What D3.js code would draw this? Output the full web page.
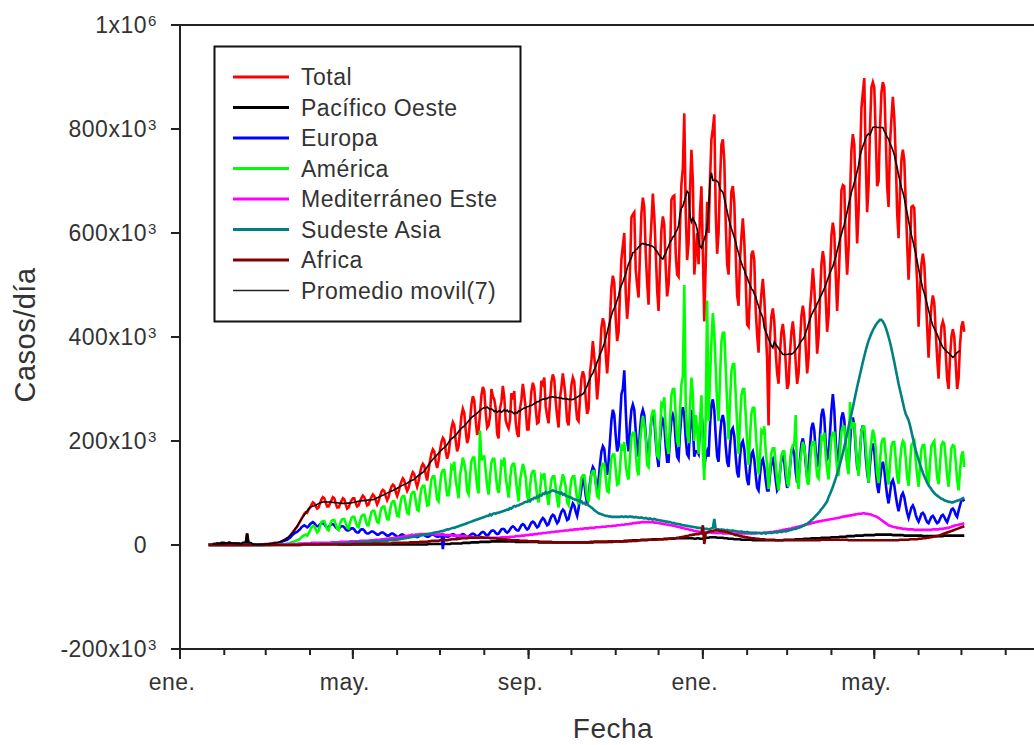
<!DOCTYPE html>
<html>
<head>
<meta charset="utf-8">
<script src="https://cdn.jsdelivr.net/npm/d3@7"></script>
<style>
  html, body { margin: 0; padding: 0; background: #fff; }
  svg { display: block; }
  text { font-family: "Liberation Sans", Arial, sans-serif; fill: #333; }
</style>
</head>
<body>
<svg id="chart" width="1034" height="745"></svg>
<script>
// Daily reported COVID-19 cases (thousands per day), one value per day from 21 Jan 2020.
const firstDay = new Date(2020, 0, 21);

const seriesNames = ["Total", "Pacífico Oeste", "Europa", "América", "Mediterráneo Este", "Sudeste Asia", "Africa"];
const seriesColors = ["#ff0000", "#000000", "#0000ff", "#00ff00", "#ff00ff", "#008080", "#800000"];
const maLabel = "Promedio movil(7)";
const maWindow = 7;

const total = [
0,1,1,1,2,2,3,
2,2,2,3,3,3,3,
4,4,3,3,3,3,3,
3,2,2,2,3,3,22,
2,2,1,1,1,1,1,
1,1,1,1,2,2,2,
2,3,3,3,4,4,4,
4,5,7,8,10,11,13,
14,17,21,25,28,32,35,
40,45,50,55,60,63,62,
68,72,77,82,80,75,70,
72,80,88,92,90,82,74,
74,80,86,92,90,80,72,
72,78,84,90,88,78,70,
72,80,86,90,90,80,74,
76,84,90,95,92,84,76,
78,86,92,97,94,86,78,
84,94,102,106,104,94,86,
92,104,112,116,114,102,94,
102,114,122,128,124,112,104,
110,122,133,140,136,122,112,
122,138,150,156,152,136,124,
144,162,176,184,180,160,148,
162,182,198,206,202,180,166,
176,198,224,236,230,200,180,
190,218,248,262,254,220,196,
206,238,270,286,278,240,212,
220,252,288,304,296,254,226,
230,248,300,286,280,262,214,
205,262,276,306,284,240,230,
224,240,292,280,296,236,214,
208,262,280,310,288,262,222,
222,262,296,312,302,262,234,
236,268,316,310,322,266,248,
234,276,314,328,318,276,248,
226,282,304,330,308,280,238,
230,272,308,322,314,272,242,
238,282,320,334,324,282,252,
262,332,356,392,362,330,280,
312,368,418,436,426,368,330,
370,436,494,518,504,436,392,
410,485,550,575,600,485,435,
470,530,630,636,640,530,500,
476,562,638,668,650,562,504,
462,570,620,676,632,566,490,
450,534,606,632,616,534,478,
500,560,664,670,672,560,520,
516,610,694,724,830,640,548,
580,680,760,700,520,560,600,
540,640,690,560,430,540,660,
600,700,780,800,828,640,560,
600,700,770,780,740,620,540,
520,610,680,690,660,560,480,
460,548,592,628,584,508,424,
420,482,558,566,548,452,404,
370,448,484,512,474,416,356,
230,400,440,455,430,370,330,
310,370,410,425,400,350,300,
310,370,410,430,400,350,310,
330,390,440,460,440,380,330,
360,452,488,532,494,440,368,
400,475,540,565,545,475,410,
440,525,595,620,600,520,450,
510,580,682,692,690,580,520,
570,670,760,790,770,670,580,
640,740,840,870,898,740,640,
690,800,880,890,880,790,690,
700,800,870,890,880,790,690,
650,772,820,862,822,748,640,
590,680,740,760,740,660,580,
510,570,650,652,648,560,506,
420,490,540,560,540,480,420,
360,420,460,480,465,410,360,
320,380,420,430,420,370,320,
300,360,400,415,400,350,300,
320,385,420,430,410
];

const pacificoOeste = [
0,1,1,2,2,2,3,
3,3,4,4,4,3,3,
4,4,3,3,3,3,3,
3,2,2,2,3,3,22,
2,2,1,1,1,1,1,
1,1,1,1,1,1,1,
1,1,1,1,1,1,1,
1,1,1,1,1,1,1,
1,1,1,1,1,1,1,
1,1,1,1,2,2,2,
2,2,2,2,2,2,2,
2,2,2,2,2,2,2,
2,2,2,2,2,2,2,
1,1,1,1,1,1,1,
1,1,1,1,1,1,1,
1,1,1,1,1,1,1,
1,1,1,1,1,1,1,
1,1,1,1,1,1,1,
1,1,1,1,1,1,1,
1,1,1,1,1,1,1,
1,1,1,1,1,1,1,
1,1,1,1,1,1,1,
2,2,2,2,2,2,2,
2,2,2,2,2,2,2,
2,2,3,3,3,3,3,
3,3,3,4,4,4,4,
4,4,5,5,5,5,5,
5,6,6,6,6,6,6,
6,6,7,7,7,7,7,
7,7,7,7,7,7,7,
7,7,7,7,7,6,6,
6,6,6,6,6,6,6,
6,6,6,6,6,6,6,
5,5,5,5,5,5,5,
5,5,5,5,5,5,5,
5,5,5,5,5,5,5,
5,5,5,5,5,5,5,
5,5,5,5,5,5,5,
5,5,5,5,6,6,6,
6,6,6,6,6,6,6,
6,6,6,6,7,7,7,
7,7,7,7,8,8,8,
8,8,8,9,9,9,9,
9,9,10,10,10,10,10,
10,10,10,11,11,11,11,
11,11,11,11,12,12,12,
12,12,12,12,12,13,13,
13,13,13,13,13,13,13,
13,13,13,13,12,12,13,
13,12,12,12,13,14,14,
14,15,15,15,15,15,14,
14,14,14,14,13,13,13,
12,12,12,12,11,11,11,
11,11,10,10,10,10,10,
10,10,10,9,9,9,9,
9,9,9,9,9,9,9,
9,9,9,9,9,9,9,
9,9,9,9,10,10,10,
10,10,10,10,10,11,11,
11,11,11,11,12,12,12,
12,12,13,13,13,13,13,
13,13,14,14,14,14,14,
14,14,15,15,15,15,15,
15,16,16,16,16,16,17,
17,17,17,17,17,18,18,
18,18,18,18,19,19,19,
19,19,19,19,19,20,20,
20,20,20,20,20,20,20,
20,20,20,19,19,19,19,
19,19,19,19,18,18,18,
18,18,18,18,18,18,18,
18,18,18,17,17,17,17,
17,17,17,17,17,17,17,
17,17,17,17,18,18,18,
18,18,18,18,18,18,18,
18,18,18,18,18
];

const europa = [
0,0,0,0,0,0,0,
0,0,0,0,0,0,0,
0,0,0,0,0,0,0,
0,0,0,0,0,0,0,
0,0,0,0,0,0,0,
0,0,0,0,0,1,1,
1,1,1,1,2,2,3,
4,5,6,7,8,9,10,
12,14,17,20,22,24,25,
28,30,34,36,38,36,34,
36,40,42,44,42,38,36,
36,40,42,42,40,36,34,
34,38,40,40,38,34,32,
30,34,36,36,34,30,28,
28,30,32,32,30,26,24,
24,28,30,30,28,24,22,
22,24,26,26,24,22,20,
20,22,24,24,22,20,18,
18,20,22,22,20,18,16,
16,18,20,20,18,16,15,
15,17,19,19,18,16,15,
16,18,20,20,19,17,16,
16,18,20,20,19,17,16,
16,18,20,-8,19,17,16,
16,18,20,21,20,17,16,
16,18,20,21,20,17,16,
16,19,21,22,21,18,17,
18,21,24,25,24,20,19,
20,24,27,28,27,23,21,
22,26,30,31,30,26,24,
26,30,34,36,34,30,28,
28,33,38,40,38,33,30,
32,38,43,45,43,38,34,
36,43,48,52,49,43,38,
40,48,55,58,56,48,42,
46,56,64,68,65,56,48,
50,62,72,80,76,64,56,
70,90,110,130,120,95,80,
95,120,140,150,145,120,105,
125,155,180,190,185,155,135,
160,200,240,260,250,210,180,
190,240,290,300,336,260,200,
180,230,260,270,260,220,190,
170,220,250,260,250,210,180,
160,210,240,250,240,200,170,
150,200,230,240,230,190,160,
160,210,240,250,240,200,170,
165,215,250,265,250,205,175,
170,220,260,230,170,180,180,
175,230,260,220,150,170,180,
170,230,270,280,260,210,170,
160,210,240,250,235,190,160,
150,190,220,225,210,170,140,
130,170,195,200,185,150,125,
115,150,175,180,165,135,110,
105,135,160,165,150,125,105,
105,135,160,165,150,125,105,
110,140,165,170,160,130,110,
120,150,180,185,175,140,120,
130,165,195,205,190,155,130,
150,190,225,235,220,180,150,
165,210,250,262,245,195,165,
170,215,260,290,260,200,165,
160,205,245,255,240,195,160,
150,195,235,245,230,185,150,
140,180,220,230,215,170,140,
120,155,185,195,180,145,115,
100,125,150,160,145,118,95,
80,100,120,125,115,95,78,
65,80,95,100,92,76,62,
52,62,72,76,70,58,50,
45,52,60,62,58,50,44,
42,48,54,56,52,46,42,
44,50,56,58,54,48,44,
52,60,68,70,66,58,54,
66,76,86,88,84
];

const america = [
0,0,0,0,0,0,0,
0,0,0,0,0,0,0,
0,0,0,0,0,0,0,
0,0,0,0,0,0,0,
0,0,0,0,0,0,0,
0,0,0,0,0,0,0,
0,0,0,0,0,1,1,
1,1,1,1,2,2,3,
3,4,5,6,7,8,9,
10,12,15,17,19,20,18,
22,28,34,36,36,30,24,
27,36,44,46,46,38,30,
28,38,46,48,48,40,32,
29,40,48,50,50,42,34,
32,43,52,54,54,45,36,
34,46,55,58,58,48,38,
38,52,63,66,66,55,44,
43,59,71,74,74,62,50,
49,66,80,84,84,70,56,
55,74,90,94,94,78,62,
60,81,98,102,102,85,68,
66,90,109,114,114,95,76,
77,104,126,132,132,110,88,
84,114,138,144,144,120,96,
96,118,152,148,160,124,108,
90,134,150,168,156,140,104,
98,133,161,168,168,140,112,
99,220,163,170,170,142,114,
97,131,159,166,166,138,110,
100,124,160,156,168,130,112,
91,124,150,156,156,130,104,
84,124,140,156,146,130,96,
83,112,136,142,142,118,94,
82,102,134,130,138,108,94,
77,104,126,132,132,110,88,
72,108,120,136,126,112,82,
77,104,126,132,132,110,88,
78,106,129,134,134,112,90,
83,112,136,142,142,118,94,
91,124,150,156,156,130,104,
102,138,167,174,174,145,116,
118,148,190,186,198,156,134,
126,171,207,216,216,180,144,
134,196,224,248,232,206,154,
150,204,247,258,258,215,172,
168,212,272,268,284,224,190,
175,238,288,300,300,250,200,
189,256,310,324,500,270,216,
196,266,322,290,200,250,224,
175,238,288,180,125,250,470,
238,323,391,446,408,340,272,
238,323,391,408,408,340,272,
203,276,334,348,348,290,232,
175,238,288,300,300,250,200,
154,209,253,264,264,220,176,
136,170,220,216,228,180,152,
108,147,178,186,186,155,124,
105,142,172,180,180,150,120,
112,152,184,192,192,250,128,
108,158,178,198,186,166,122,
116,157,190,198,198,165,132,
128,160,208,204,216,170,146,
126,171,207,216,216,180,144,
133,180,218,228,228,190,152,
136,275,224,234,234,195,156,
133,180,218,228,228,190,152,
120,176,200,222,210,186,138,
119,161,195,204,204,170,136,
116,157,190,198,198,165,132,
118,160,188,200,196,168,130,
114,155,192,196,200,162,134,
112,152,184,192,192,160,128,
116,158,190,196,200,165,130,
117,155,192,198,196,166,133,
112,150,186,192,190,160,126,
105,142,172,180,150
];

const mediterraneoEste = [
0,0,0,0,0,0,0,
0,0,0,0,0,0,0,
0,0,0,0,0,0,0,
0,0,0,0,0,0,0,
0,0,0,0,0,0,0,
0,0,0,0,0,0,0,
0,0,1,1,1,1,1,
1,1,1,1,1,1,1,
1,2,2,2,2,2,2,
3,3,3,3,3,3,3,
3,3,4,4,4,4,4,
4,4,4,4,4,4,4,
4,4,5,5,5,5,5,
5,6,6,6,6,6,6,
6,7,7,7,7,7,7,
7,8,8,8,8,8,8,
8,9,9,9,9,10,10,
10,10,11,11,11,12,12,
12,13,13,13,14,14,14,
15,15,16,16,17,17,17,
18,18,19,19,19,20,20,
20,21,21,21,21,21,21,
21,21,21,21,21,20,20,
20,20,20,20,19,19,19,
19,19,19,18,18,18,18,
18,18,17,17,17,17,16,
16,16,16,16,15,15,15,
15,15,15,15,14,14,14,
14,14,14,14,14,14,14,
14,14,15,15,15,15,15,
15,16,16,16,16,17,17,
17,17,18,18,18,19,19,
19,20,20,20,21,21,21,
22,22,22,23,23,23,24,
24,24,25,25,25,26,26,
26,27,27,27,28,28,28,
28,29,29,29,30,30,30,
30,31,31,31,32,32,32,
32,33,33,33,33,34,34,
34,34,35,35,35,35,36,
36,36,36,37,37,37,38,
38,38,39,39,39,40,40,
40,41,41,42,42,42,43,
43,43,44,44,44,44,44,
44,44,44,44,43,43,43,
42,42,41,41,40,40,39,
39,38,38,37,37,36,35,
35,34,33,33,32,31,31,
30,29,29,28,27,27,26,
26,25,25,25,24,24,24,
24,24,24,23,23,23,23,
23,23,23,22,22,22,22,
22,22,22,22,22,22,22,
22,22,22,22,22,22,22,
22,22,22,22,22,22,23,
23,23,23,23,24,24,24,
24,25,25,25,26,26,27,
27,28,28,29,29,30,30,
31,31,32,33,33,34,35,
35,36,37,37,38,39,40,
40,41,42,43,43,44,45,
45,46,46,47,47,48,48,
49,49,50,50,51,51,52,
52,53,54,54,55,55,56,
56,57,57,58,58,59,59,
60,60,60,61,61,60,60,
59,59,58,57,56,55,54,
52,50,48,46,44,42,40,
38,37,36,35,34,34,33,
33,32,32,31,31,31,30,
30,30,30,30,29,29,29,
29,29,29,29,29,29,29,
29,29,29,30,30,30,30,
30,31,31,31,32,32,33,
33,34,35,36,37,38,38,
39,40,40,41,42
];

const sudesteAsia = [
0,0,0,0,0,0,0,
0,0,0,0,0,0,0,
0,0,0,0,0,0,0,
0,0,0,0,0,0,0,
0,0,0,0,0,0,0,
0,0,0,0,0,0,0,
0,0,0,0,0,0,0,
0,0,0,0,0,0,0,
0,0,0,0,0,0,0,
0,0,0,1,1,1,1,
1,1,1,1,1,1,1,
1,2,2,2,2,2,2,
2,2,2,2,3,3,3,
3,3,3,3,3,3,4,
4,4,4,4,4,5,5,
5,5,5,5,6,6,6,
6,6,6,7,7,7,7,
7,7,8,8,8,8,8,
9,9,9,10,10,10,10,
11,11,12,12,13,13,14,
14,15,15,16,16,17,17,
18,18,19,19,20,20,21,
21,22,22,23,24,24,25,
25,26,27,27,28,29,30,
30,31,32,33,33,34,35,
36,37,38,39,40,41,42,
43,44,45,46,47,48,49,
50,51,52,53,54,55,56,
56,59,57,60,61,60,62,
62,63,64,65,66,67,68,
68,71,70,73,75,74,76,
76,78,79,80,82,83,83,
85,84,88,88,91,90,93,
92,96,95,99,98,102,99,
101,102,104,105,104,103,102,
101,99,101,97,98,95,94,
93,92,91,89,88,87,86,
86,83,84,80,81,78,79,
76,74,72,70,67,65,63,
61,60,59,58,57,56,56,
55,55,54,54,54,54,54,
54,54,55,54,54,55,54,
54,55,54,54,53,54,53,
53,52,53,52,51,52,51,
50,51,50,49,50,49,48,
48,47,47,46,46,45,45,
44,44,43,42,42,41,41,
40,40,39,38,38,37,37,
36,36,35,35,34,34,33,
33,33,32,32,31,31,31,
30,31,32,33,50,31,30,
30,29,30,29,29,28,29,
28,28,27,28,27,27,26,
26,25,26,25,25,24,25,
24,24,23,24,23,24,23,
23,23,22,23,23,22,23,
23,24,23,24,24,25,24,
25,26,25,26,27,26,27,
28,29,29,30,31,31,32,
33,34,35,37,38,40,41,
43,45,48,50,53,56,59,
62,65,69,72,76,80,84,
92,98,105,112,120,128,137,
146,156,166,177,189,201,214,
227,240,252,265,278,291,304,
316,328,340,352,363,374,384,
393,400,407,413,418,423,427,
430,433,433,430,425,418,410,
400,390,378,365,352,338,324,
310,298,286,274,262,252,246,
240,230,218,206,194,183,173,
164,155,147,139,132,126,120,
115,111,107,103,100,97,95,
93,91,89,88,86,85,84,
83,83,82,82,83,84,85,
86,87,88,90,91
];

const africa = [
0,0,0,0,0,0,0,
0,0,0,0,0,0,0,
0,0,0,0,0,0,0,
0,0,0,0,0,0,0,
0,0,0,0,0,0,0,
0,0,0,0,0,0,0,
0,0,0,0,0,0,0,
0,0,0,0,0,0,0,
0,0,0,0,0,0,0,
0,0,1,1,1,1,1,
1,1,1,1,1,1,1,
1,1,1,1,1,1,1,
1,1,1,1,1,1,1,
1,1,1,1,1,1,1,
1,1,1,2,2,2,2,
2,2,2,2,2,2,2,
2,2,2,3,3,3,3,
3,3,3,3,3,3,3,
3,3,3,4,4,4,4,
4,4,4,4,4,4,4,
4,5,5,5,5,5,5,
5,6,6,6,6,6,6,
7,7,8,8,8,8,8,
8,9,9,9,9,9,9,
10,10,11,11,11,11,11,
12,12,13,13,13,13,13,
14,14,14,14,14,14,14,
14,14,15,14,14,14,14,
14,13,13,13,13,13,12,
12,12,11,11,11,11,10,
10,10,9,9,9,9,9,
9,8,8,8,8,8,8,
7,7,7,7,7,7,7,
7,6,6,6,6,6,6,
6,6,6,5,5,5,5,
5,5,5,5,5,5,5,
5,5,5,5,5,5,5,
5,5,5,5,5,5,5,
5,6,6,6,6,6,6,
6,6,6,6,6,6,6,
7,7,7,7,7,7,7,
7,7,7,7,7,7,7,
8,8,8,8,8,8,8,
9,9,9,9,9,9,9,
10,10,10,10,10,10,10,
11,11,11,11,11,11,11,
12,12,13,13,13,13,14,
14,15,15,16,16,17,17,
18,19,19,20,20,21,21,
21,22,22,38,2,23,24,
25,26,27,27,28,28,28,
28,27,27,26,26,25,25,
24,23,22,21,20,19,19,
18,17,17,16,16,15,15,
14,14,13,13,13,12,12,
12,11,11,11,11,10,10,
10,10,10,10,10,9,9,
9,9,9,9,9,9,9,
9,9,9,9,9,9,9,
9,9,9,9,9,9,9,
9,9,9,9,9,9,9,
9,9,10,10,10,10,10,
10,10,10,10,10,10,10,
10,10,10,10,10,10,10,
9,9,9,9,9,9,9,
9,9,9,9,9,9,9,
9,9,9,9,9,9,9,
9,9,9,9,9,9,9,
9,9,9,9,9,9,9,
9,10,10,10,10,10,10,
10,11,11,11,11,11,11,
12,12,12,13,13,13,14,
14,15,15,16,16,17,17,
18,19,20,21,22,23,24,
25,26,27,28,29,30,31,
32,33,34,35,36
];

const seriesValues = [total, pacificoOeste, europa, america, mediterraneoEste, sudesteAsia, africa];

// Axis ticks and labels
const yTickValues = [-200, 0, 200, 400, 600, 800, 1000];
const yTickBase = ["-200x10", "0", "200x10", "400x10", "600x10", "800x10", "1x10"];
const yTickPower = ["3", "", "3", "3", "3", "3", "6"];
const xMajorDates = [new Date(2020, 0, 1), new Date(2020, 4, 1), new Date(2020, 8, 1), new Date(2021, 0, 1), new Date(2021, 4, 1)];
const xMajorLabels = ["ene.", "may.", "sep.", "ene.", "may."];
const xTitle = "Fecha";
const yTitle = "Casos/día";

const svg = d3.select("#chart");

const x = d3.scaleTime()
  .domain([new Date(2020, 0, 1), new Date(2021, 8, 1)])
  .range([180, 1050]);
const y = d3.scaleLinear().domain([-200, 1000]).range([649, 25]);

const axisColor = "#222";

// frame top edge
svg.append("line")
  .attr("x1", 180).attr("x2", 1050)
  .attr("y1", y(1000)).attr("y2", y(1000))
  .attr("stroke", axisColor).attr("stroke-width", 2);

// x axis: monthly minor ticks, labelled major ticks
const xMinor = svg.append("g")
  .attr("transform", `translate(0,${y(-200)})`)
  .call(d3.axisBottom(x).ticks(d3.timeMonth.every(1)).tickSize(6).tickSizeOuter(0).tickFormat("").offset(0));
xMinor.select(".domain").attr("stroke", axisColor).attr("stroke-width", 2);
xMinor.selectAll(".tick line").attr("stroke", axisColor).attr("stroke-width", 2);

const xMajor = svg.append("g")
  .attr("transform", `translate(0,${y(-200)})`)
  .call(d3.axisBottom(x).tickValues(xMajorDates).tickSize(10).tickSizeOuter(0)
    .tickFormat((d, i) => xMajorLabels[i]).offset(0));
xMajor.select(".domain").remove();
xMajor.selectAll(".tick line").attr("stroke", axisColor).attr("stroke-width", 2);
xMajor.selectAll(".tick text")
  .attr("y", 41).attr("dy", 0).attr("dx", -8)
  .attr("fill", "#333")
  .style("font-size", "23px").style("letter-spacing", "0.5px")
  .style("font-family", '"Liberation Sans", Arial, sans-serif');

// y axis
const yAxis = svg.append("g")
  .attr("transform", "translate(180,0)")
  .call(d3.axisLeft(y).tickValues(yTickValues).tickSize(9).tickSizeOuter(0).tickFormat("").offset(0));
yAxis.select(".domain").attr("stroke", axisColor).attr("stroke-width", 2);
yAxis.selectAll(".tick line").attr("stroke", axisColor).attr("stroke-width", 2);
yAxis.selectAll(".tick").each(function(d, i) {
  const g = d3.select(this);
  g.append("text")
    .attr("x", -33).attr("y", 8)
    .attr("text-anchor", "end")
    .attr("fill", "#333")
    .style("font-size", "23px").style("letter-spacing", "0.5px")
    .text(yTickBase[i]);
  if (yTickPower[i]) {
    g.append("text")
      .attr("x", -32).attr("y", 1)
      .attr("text-anchor", "start")
      .attr("fill", "#333")
      .style("font-size", "15px")
      .text(yTickPower[i]);
  }
});

// axis titles
svg.append("text")
  .attr("x", 613).attr("y", 738)
  .attr("text-anchor", "middle")
  .style("font-size", "28px").style("letter-spacing", "0.5px")
  .text(xTitle);
svg.append("text")
  .attr("transform", "translate(35,335) rotate(-90)")
  .attr("text-anchor", "middle")
  .style("font-size", "29px").style("letter-spacing", "0.5px")
  .text(yTitle);

// daily series
const dayOf = i => d3.timeDay.offset(firstDay, i);
const line = d3.line()
  .x(d => x(dayOf(d.i)))
  .y(d => y(d.v));

const plot = svg.append("g");
seriesValues.forEach((vals, k) => {
  plot.append("path")
    .datum(vals.map((v, i) => ({ i, v })))
    .attr("fill", "none")
    .attr("stroke", seriesColors[k])
    .attr("stroke-width", 2.6)
    .attr("stroke-linejoin", "miter")
    .attr("d", line);
});

// centred 7-day moving average of the total
const half = Math.floor(maWindow / 2);
const movingAvg = [];
for (let i = half; i < total.length - half; i++) {
  movingAvg.push({ i, v: d3.mean(total.slice(i - half, i + half + 1)) });
}
plot.append("path")
  .datum(movingAvg)
  .attr("fill", "none")
  .attr("stroke", "#000")
  .attr("stroke-width", 1.6)
  .attr("d", line);

// legend
const legend = svg.append("g");
legend.append("rect")
  .attr("x", 214.5).attr("y", 46.5).attr("width", 306).attr("height", 275)
  .attr("fill", "#fff").attr("stroke", "#111").attr("stroke-width", 2);

const legendItems = seriesNames.map((name, k) => ({ name, color: seriesColors[k], width: 3 }))
  .concat([{ name: maLabel, color: "#222", width: 1.3 }]);
const rowY = i => 77 + i * 30.5;
const rows = legend.selectAll("g.item").data(legendItems).join("g").attr("class", "item");
rows.append("line")
  .attr("x1", 233).attr("x2", 289)
  .attr("y1", (d, i) => rowY(i)).attr("y2", (d, i) => rowY(i))
  .attr("stroke", d => d.color).attr("stroke-width", d => d.width);
rows.append("text")
  .attr("x", 301).attr("y", (d, i) => rowY(i) + 8)
  .style("font-size", "23px").style("letter-spacing", "0.5px")
  .attr("fill", "#222")
  .text(d => d.name);
</script>
</body>
</html>
